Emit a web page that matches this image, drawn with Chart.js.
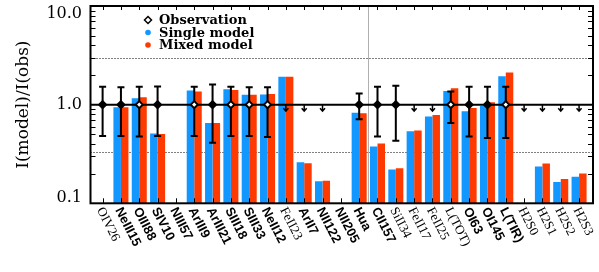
<!DOCTYPE html>
<html>
<head>
<meta charset="utf-8">
<script src="https://cdn.jsdelivr.net/npm/chart.js@4.4.0/dist/chart.umd.min.js"></script>
<style>
  html, body { margin: 0; padding: 0; background: #fff; }
  #wrap { width: 599px; height: 272px; }
</style>
</head>
<body>
<div id="wrap"><canvas id="graph"></canvas></div>
<script>
// line names along the x axis, and whether the label is set in bold
const lines = ["OIV26", "NeIII15", "OIII88", "SIV10", "NIII57", "ArIII9", "ArIII21", "SIII18", "SIII33",
  "NeII12", "FeII23", "ArII7", "NII122", "NII205", "Hua", "CII157", "SiII34", "FeII17", "FeII25",
  "L(TOT)", "OI63", "OI145", "L(TIR)", "H2S0", "H2S1", "H2S2", "H2S3"];
const boldLabel = [false, true, true, true, true, true, true, true, true, true, false, true, true, true,
  true, true, false, false, false, false, true, true, true, false, false, false, false];

// I(model)/I(obs)
const singleModel = [null, 0.94, 1.16, 0.51, null, 1.39, 0.65, 1.43, 1.26, 1.27, 1.92, 0.26, 0.167, null,
  0.83, 0.377, 0.22, 0.537, 0.757, 1.375, 0.856, 0.97, 1.94, null, 0.236, 0.164, 0.186];
const mixedModel = [null, 0.94, 1.19, 0.505, null, 1.36, 0.65, 1.41, 1.26, 1.28, 1.92, 0.255, 0.169, null,
  0.82, 0.404, 0.226, 0.546, 0.787, 1.47, 0.926, 1.055, 2.12, null, 0.253, 0.176, 0.201];

// observations (normalised to 1) with error range, and upper limits
const observed = [1, 1, 1, 1, null, 1, 1, 1, 1, 1, null, null, null, null, 1, 1, 1, null, null, 1, 1, 1, 1,
  null, null, null, null];
const errLow = [0.48, 0.48, 0.475, 0.48, null, 0.48, 0.41, 0.48, 0.48, 0.47, null, null, null, null,
  0.71, 0.475, 0.43, null, null, 0.65, 0.475, 0.46, 0.46, null, null, null, null];
const errHigh = [1.52, 1.5, 1.52, 1.53, null, 1.52, 1.6, 1.52, 1.5, 1.5, null, null, null, null,
  1.3, 1.52, 1.55, null, null, 1.36, 1.52, 1.52, 1.52, null, null, null, null];
const upperLimit = [null, null, null, null, null, null, null, null, null, null, 1, 1, 1, null,
  null, null, null, 1, 1, null, null, null, null, 1, 1, 1, 1];

const refLines = [3, 1 / 3];
const splitAt = 14.5;

const BLUE = "rgb(18,150,255)";
const RED = "rgb(255,58,0)";

const near = (a, b) => Math.abs(a - b) < 1e-6 * b;

const idlFrame = {
  id: "idlFrame",
  beforeDatasetsDraw(chart) {
    const { ctx, chartArea: a, scales: { x, y } } = chart;
    ctx.save();
    ctx.strokeStyle = "#000";
    ctx.lineWidth = 1;
    ctx.setLineDash([1, 2]);
    refLines.forEach(v => {
      const py = Math.round(y.getPixelForValue(v)) + 0.5;
      ctx.beginPath();
      ctx.moveTo(a.left, py);
      ctx.lineTo(a.right, py);
      ctx.stroke();
    });
    ctx.setLineDash([]);
    ctx.strokeStyle = "#b0b0b0";
    const gx = Math.round(x.getPixelForValue(splitAt)) + 0.5;
    ctx.beginPath();
    ctx.moveTo(gx, a.top);
    ctx.lineTo(gx, a.bottom);
    ctx.stroke();
    ctx.restore();
  },
  beforeDatasetDraw(chart, args) {
    if (args.index !== 0) return;
    const { ctx, chartArea: a, scales: { x, y } } = chart;
    ctx.save();
    ctx.strokeStyle = "#000";
    ctx.lineWidth = 2;
    const y1 = y.getPixelForValue(1);
    ctx.beginPath();
    ctx.moveTo(a.left, y1);
    ctx.lineTo(a.right, y1);
    ctx.stroke();

    // error bars
    errLow.forEach((lo, i) => {
      if (lo == null) return;
      const px = x.getPixelForValue(i);
      const top = y.getPixelForValue(errHigh[i]);
      const bot = y.getPixelForValue(lo);
      ctx.beginPath();
      ctx.moveTo(px, top);
      ctx.lineTo(px, bot);
      ctx.moveTo(px - 3.5, top);
      ctx.lineTo(px + 3.5, top);
      ctx.moveTo(px - 3.5, bot);
      ctx.lineTo(px + 3.5, bot);
      ctx.stroke();
    });

    // upper limits
    ctx.lineWidth = 1.5;
    upperLimit.forEach((v, i) => {
      if (v == null) return;
      const px = x.getPixelForValue(i);
      const py = y.getPixelForValue(v);
      ctx.beginPath();
      ctx.moveTo(px, py);
      ctx.lineTo(px, py + 6);
      ctx.moveTo(px - 2.5, py + 3.5);
      ctx.lineTo(px, py + 6.5);
      ctx.lineTo(px + 2.5, py + 3.5);
      ctx.stroke();
    });
    ctx.restore();
  },
  afterDraw(chart) {
    const { ctx, chartArea: a, scales: { x, y } } = chart;
    ctx.save();
    ctx.strokeStyle = "#000";

    // ticks, pointing inwards
    ctx.lineWidth = 1;
    const minors = [0.2, 0.3, 0.4, 0.5, 0.6, 0.7, 0.8, 0.9, 2, 3, 4, 5, 6, 7, 8, 9];
    minors.forEach(v => {
      const py = Math.round(y.getPixelForValue(v)) + 0.5;
      ctx.beginPath();
      ctx.moveTo(a.left, py);
      ctx.lineTo(a.left + 5, py);
      ctx.moveTo(a.right, py);
      ctx.lineTo(a.right - 5, py);
      ctx.stroke();
    });
    lines.forEach((_, i) => {
      const px = Math.round(x.getPixelForValue(i)) + 0.5;
      ctx.beginPath();
      ctx.moveTo(px, a.top);
      ctx.lineTo(px, a.top + 4);
      ctx.moveTo(px, a.bottom);
      ctx.lineTo(px, a.bottom - 5);
      ctx.stroke();
    });

    // box
    ctx.lineWidth = 2;
    ctx.strokeRect(a.left, a.top, a.right - a.left, a.bottom - a.top);

    // rotated line labels
    ctx.fillStyle = "#000";
    ctx.textAlign = "left";
    ctx.textBaseline = "top";
    lines.forEach((name, i) => {
      const px = x.getPixelForValue(i);
      ctx.save();
      ctx.translate(px + 3, a.bottom + 2);
      ctx.rotate(63 * Math.PI / 180);
      ctx.font = boldLabel[i] ? "bold 13px 'Liberation Sans'" : "13px 'Liberation Serif'";
      ctx.fillText(name, 0, 0);
      ctx.restore();
    });

    // legend
    const lx = 148, tx = 159;
    const rows = [20, 32.5, 45];
    ctx.lineWidth = 1.5;
    ctx.beginPath();
    ctx.moveTo(lx, rows[0] - 3.5);
    ctx.lineTo(lx + 3.5, rows[0]);
    ctx.lineTo(lx, rows[0] + 3.5);
    ctx.lineTo(lx - 3.5, rows[0]);
    ctx.closePath();
    ctx.stroke();
    [BLUE, RED].forEach((c, k) => {
      ctx.fillStyle = c;
      ctx.beginPath();
      ctx.arc(lx, rows[k + 1], 2.8, 0, 2 * Math.PI);
      ctx.fill();
    });
    ctx.fillStyle = "#000";
    ctx.textBaseline = "middle";
    ctx.font = "bold 13px 'DejaVu Serif'";
    ["Observation", "Single model", "Mixed model"].forEach((t, k) => ctx.fillText(t, tx, rows[k] + 1));
    ctx.restore();
  }
};

function noPad(s) {
  s.paddingTop = 0;
  s.paddingBottom = 0;
  s.paddingLeft = 0;
  s.paddingRight = 0;
}

const ctx = document.getElementById("graph").getContext("2d");

const chart = new Chart(ctx, {
  type: "bar",
  data: {
    datasets: [
      {
        type: "line",
        label: "Observation",
        data: observed.map((v, i) => ({ x: i, y: v })),
        showLine: false,
        pointStyle: "rectRot",
        pointRadius: 3.5,
        borderWidth: 2,
        borderColor: "#000",
        backgroundColor: singleModel.map(v => (v != null && v > 1 ? "#fff" : "#000")),
        order: 0
      },
      {
        label: "Single model",
        data: singleModel.map((v, i) => ({ x: i, y: v })),
        backgroundColor: BLUE,
        order: 1
      },
      {
        label: "Mixed model",
        data: mixedModel.map((v, i) => ({ x: i, y: v })),
        backgroundColor: RED,
        order: 1
      }
    ]
  },
  options: {
    responsive: true,
    maintainAspectRatio: false,
    devicePixelRatio: 1,
    animation: false,
    layout: { padding: { top: 5, right: 5, left: 0, bottom: 0 } },
    datasets: { bar: { categoryPercentage: 0.82, barPercentage: 1.0 } },
    scales: {
      x: {
        type: "linear",
        min: -0.661,
        max: 26.76,
        offset: false,
        grid: { display: false, drawTicks: false },
        border: { display: false },
        ticks: { display: false },
        afterFit(s) { s.height = 68.7; noPad(s); }
      },
      y: {
        type: "logarithmic",
        min: 0.1,
        max: 10,
        grid: { display: false, drawTicks: false },
        border: { display: false },
        ticks: {
          autoSkip: false,
          padding: 8.5,
          color: "#000",
          font: (c) => ({
            family: "DejaVu Serif",
            size: 16,
            lineHeight: c.tick && near(c.tick.value, 10) ? "15.6px" : "10.6px"
          }),
          callback: (v) => near(v, 10) ? ["", "10.0"] : near(v, 1) ? "1.0" : near(v, 0.1) ? ["0.1", ""] : ""
        },
        title: {
          display: true,
          text: "I(model)/I(obs)",
          color: "#000",
          font: { family: "DejaVu Serif", size: 17 },
          padding: { top: 13, bottom: 0 }
        },
        afterFit(s) { s.width = 90.5; noPad(s); }
      }
    },
    plugins: {
      legend: { display: false },
      tooltip: { enabled: false }
    }
  },
  plugins: [idlFrame]
});
</script>
</body>
</html>
